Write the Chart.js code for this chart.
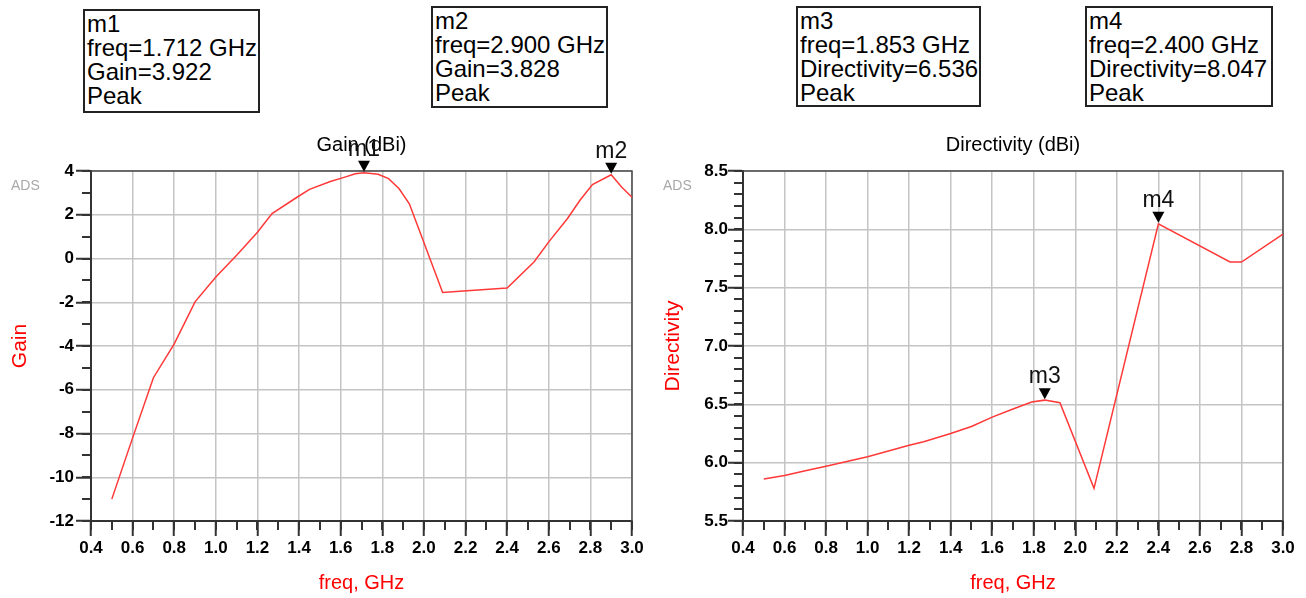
<!DOCTYPE html>
<html>
<head>
<meta charset="utf-8">
<script src="https://cdn.jsdelivr.net/npm/chart.js@4.4.1/dist/chart.umd.min.js"></script>
<style>
  body { margin: 0; width: 1306px; height: 598px; background: #fff; position: relative; overflow: hidden;
         font-family: "Liberation Sans", Arial, sans-serif; }
  canvas { position: absolute; top: 0; }
  .box { position: absolute; border: 2px solid #222; box-sizing: border-box; font-size: 24px;
         line-height: 24px; padding: 1px 0 0 2px; color: #000; white-space: nowrap; background: #fff; }
</style>
</head>
<body>
<canvas id="gainChart" width="650" height="598" style="left:0"></canvas>
<canvas id="dirChart" width="656" height="598" style="left:650px"></canvas>
<div class="box" id="box0" style="left:83px;top:9px;width:177px;height:104px"></div>
<div class="box" id="box1" style="left:431px;top:6px;width:177px;height:102px"></div>
<div class="box" id="box2" style="left:796px;top:6px;width:185px;height:101px"></div>
<div class="box" id="box3" style="left:1085px;top:6px;width:188px;height:101px"></div>
<script>
// gain vs freq (GHz, dBi)
const gainFreq = [0.50, 0.60, 0.70, 0.80, 0.90, 1.00, 1.10, 1.20, 1.27, 1.39, 1.45, 1.55, 1.62, 1.67, 1.712,
                  1.78, 1.83, 1.88, 1.93, 2.09, 2.19, 2.40, 2.53, 2.60, 2.69, 2.75, 2.81, 2.90, 2.95, 3.00];
const gainDb   = [-11.0, -8.2, -5.45, -3.9, -1.98, -0.85, 0.15, 1.2, 2.05, 2.8, 3.16, 3.52, 3.72, 3.87, 3.922,
                  3.85, 3.65, 3.2, 2.5, -1.55, -1.49, -1.35, -0.15, 0.76, 1.83, 2.66, 3.38, 3.828, 3.27, 2.8];

// directivity vs freq (GHz, dBi)
const dirFreq = [0.50, 0.60, 0.70, 0.80, 0.90, 1.00, 1.10, 1.20, 1.27, 1.40, 1.50, 1.60, 1.70, 1.79, 1.853,
                 1.926, 2.09, 2.40, 2.745, 2.80, 3.00];
const dirDb   = [5.86, 5.89, 5.93, 5.97, 6.01, 6.05, 6.10, 6.15, 6.18, 6.25, 6.31, 6.39, 6.46, 6.52, 6.536,
                 6.514, 5.78, 8.047, 7.72, 7.72, 7.96];

// markers
const markerNames = ['m1', 'm2', 'm3', 'm4'];
const markerFreq  = [1.712, 2.900, 1.853, 2.400];
const markerVals  = [3.922, 3.828, 6.536, 8.047];
const markerQty   = ['Gain', 'Gain', 'Directivity', 'Directivity'];

// axis ticks
const freqTicks = [0.4, 3.0, 0.2];
const gainTicks = [-12, 4, 2];
const dirTicks  = [5.5, 8.5, 0.5];

markerNames.forEach((n, i) => {
  document.getElementById('box' + i).innerHTML =
    n + '<br>freq=' + markerFreq[i].toFixed(3) + ' GHz<br>' +
    markerQty[i] + '=' + markerVals[i].toFixed(3) + '<br>Peak';
});

const FONT = '"Liberation Sans", Arial, sans-serif';

const adsDecor = {
  id: 'adsDecor',
  beforeDatasetsDraw(chart) {
    // dark frame on top / right edges
    const { ctx, chartArea: a } = chart;
    ctx.save();
    ctx.strokeStyle = '#4a4a4a';
    ctx.lineWidth = 1.5;
    ctx.beginPath();
    ctx.moveTo(a.left, a.top);
    ctx.lineTo(a.right, a.top);
    ctx.lineTo(a.right, a.bottom);
    ctx.stroke();
    ctx.restore();
  },
  afterDraw(chart, args, o) {
    const { ctx, chartArea: a, scales: { x, y } } = chart;
    ctx.save();
    // minor ticks
    ctx.strokeStyle = '#333';
    ctx.lineWidth = 2;
    ctx.beginPath();
    for (let v = x.min; v <= x.max + 1e-6; v += o.minorX) {
      const px = Math.round(x.getPixelForValue(v));
      ctx.moveTo(px, a.bottom); ctx.lineTo(px, a.bottom + 9);
    }
    for (let v = y.min; v <= y.max + 1e-6; v += o.minorY) {
      const py = Math.round(y.getPixelForValue(v));
      ctx.moveTo(a.left, py); ctx.lineTo(a.left - 9, py);
    }
    ctx.stroke();

    // ADS watermark
    ctx.font = '14px ' + FONT;
    ctx.fillStyle = '#a8a8a8';
    ctx.textAlign = 'left';
    ctx.textBaseline = 'middle';
    ctx.fillText('ADS', a.left - 80, a.top + 15);

    // plot title
    ctx.font = '20px ' + FONT;
    ctx.fillStyle = '#000';
    ctx.textAlign = 'center';
    ctx.fillText(o.title, (a.left + a.right) / 2, a.top - 26);

    // peak markers
    o.markers.forEach(i => {
      const px = x.getPixelForValue(markerFreq[i]);
      const py = y.getPixelForValue(markerVals[i]);
      ctx.fillStyle = '#000';
      ctx.beginPath();
      ctx.moveTo(px - 6, py - 12);
      ctx.lineTo(px + 6, py - 12);
      ctx.lineTo(px, py - 1);
      ctx.closePath();
      ctx.fill();
      ctx.font = '23px ' + FONT;
      ctx.fillStyle = '#111';
      ctx.textBaseline = 'alphabetic';
      ctx.fillText(markerNames[i], px, py - 17);
    });
    ctx.restore();
  }
};

function makeChart(id, xs, ys, yTicks, opts) {
  const yFmt = opts.yDecimals;
  return new Chart(document.getElementById(id), {
    type: 'line',
    data: {
      datasets: [{
        data: xs.map((f, i) => ({ x: f, y: ys[i] })),
        borderColor: '#ff3838',
        borderWidth: 1.5,
        pointRadius: 0,
        tension: 0,
        fill: false
      }]
    },
    options: {
      responsive: false,
      animation: false,
      devicePixelRatio: 1,
      layout: { padding: { top: 171, right: opts.padRight, left: 0, bottom: 0 } },
      plugins: {
        legend: { display: false },
        tooltip: { enabled: false },
        adsDecor: { title: opts.title, minorX: 0.1, minorY: opts.minorY, markers: opts.markers }
      },
      scales: {
        x: {
          type: 'linear',
          min: freqTicks[0], max: freqTicks[1],
          afterFit(s) { s.height = 77; },
          ticks: {
            stepSize: freqTicks[2],
            color: '#000',
            padding: 2,
            maxRotation: 0,
            font: { family: FONT, size: 17, weight: 'bold' },
            callback: v => Number(v).toFixed(1)
          },
          grid: {
            color: '#c4c4c4',
            lineWidth: 1.5,
            tickColor: '#333', tickWidth: 2, tickLength: 15
          },
          border: { color: '#333', width: 2 },
          title: {
            display: true, text: 'freq, GHz', color: '#ff0000',
            font: { family: FONT, size: 20 }, padding: { top: 0, bottom: 3 }
          }
        },
        y: {
          min: yTicks[0], max: yTicks[1],
          afterFit(s) { s.width = opts.yWidth; },
          ticks: {
            stepSize: yTicks[2],
            color: '#000',
            padding: opts.yPad,
            font: { family: FONT, size: 17, weight: 'bold' },
            callback: v => Number(v).toFixed(yFmt)
          },
          grid: {
            color: '#c4c4c4',
            lineWidth: 1.5,
            tickColor: '#333', tickWidth: 2, tickLength: 15
          },
          border: { color: '#333', width: 2 },
          title: {
            display: true, text: opts.yTitle, color: '#ff0000',
            font: { family: FONT, size: 21 }, padding: { top: opts.yTitlePad, bottom: 0 }
          }
        }
      }
    },
    plugins: [adsDecor]
  });
}

makeChart('gainChart', gainFreq, gainDb, gainTicks, {
  title: 'Gain (dBi)', yTitle: 'Gain', yDecimals: 0, minorY: 1,
  markers: [0, 1], padRight: 18, yWidth: 91, yPad: 2, yTitlePad: 8
});

makeChart('dirChart', dirFreq, dirDb, dirTicks, {
  title: 'Directivity (dBi)', yTitle: 'Directivity', yDecimals: 1, minorY: 0.1,
  markers: [2, 3], padRight: 23, yWidth: 93, yPad: 0, yTitlePad: 11
});
</script>
</body>
</html>
